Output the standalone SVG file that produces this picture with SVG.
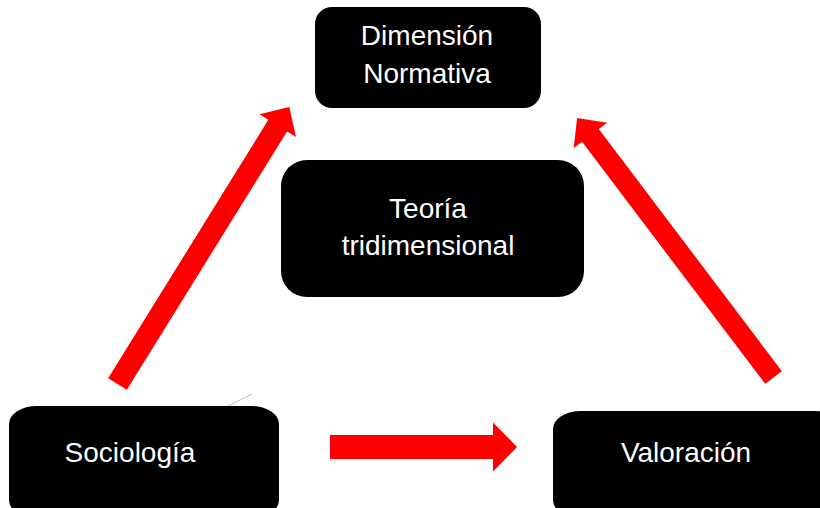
<svg xmlns="http://www.w3.org/2000/svg" width="820" height="508" viewBox="0 0 820 508">
<style>
.box{fill:#000}
.lbl{fill:#fff;font-family:"Liberation Sans",Arial,sans-serif;font-size:28px;text-anchor:middle}
.arr{fill:#ff0000}
</style>
<rect width="820" height="508" fill="#fff"/>
<g id="connectors">
<polygon class="arr" transform="translate(117.5,384) rotate(-58.2)" points="0,-11 304,-11 304,-21.5 326,0 304,21.5 304,11 0,11"/>
<polygon class="arr" transform="translate(773.5,377.5) rotate(-127.1)" points="0,-10.5 303.5,-10.5 303.5,-21 325.5,0 303.5,21 303.5,10.5 0,10.5"/>
<polygon class="arr" transform="translate(330,447)" points="0,-12 163,-12 163,-24.5 187,0 163,24.5 163,12 0,12"/>
<line x1="228" y1="406" x2="252" y2="394" stroke="#bbbbbb" stroke-width="1"/>
</g>
<g id="node-normativa">
<rect class="box" x="315" y="7" width="226" height="101" rx="17" ry="17"/>
<text class="lbl" x="427" y="45">Dimensión</text>
<text class="lbl" x="427" y="83">Normativa</text>
</g>
<g id="node-teoria">
<rect class="box" x="281" y="160" width="303" height="137" rx="26" ry="26"/>
<text class="lbl" x="428" y="218">Teoría</text>
<text class="lbl" x="428" y="255">tridimensional</text>
</g>
<g id="node-sociologia">
<rect class="box" x="9" y="406" width="270" height="112" rx="28" ry="18"/>
<text class="lbl" x="130" y="462">Sociología</text>
</g>
<g id="node-valoracion">
<rect class="box" x="553" y="411" width="290" height="107" rx="28" ry="18"/>
<text class="lbl" x="686" y="462">Valoración</text>
</g>
</svg>
